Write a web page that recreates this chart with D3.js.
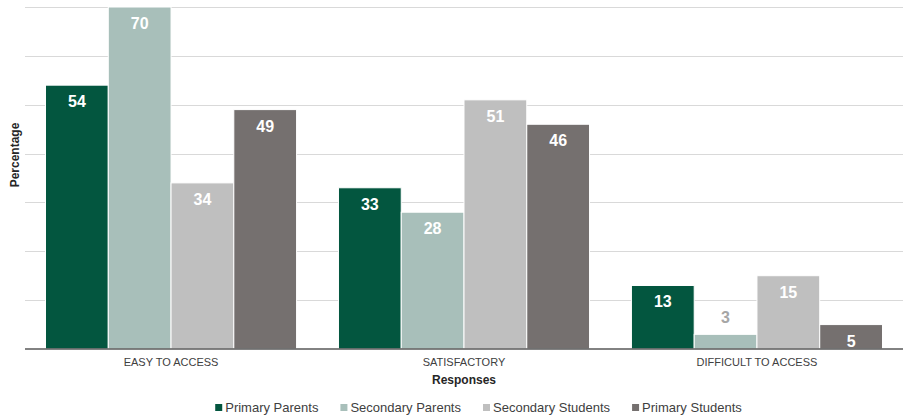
<!DOCTYPE html>
<html>
<head>
<meta charset="utf-8">
<script src="https://cdn.jsdelivr.net/npm/d3@7"></script>
<style>
  body { margin: 0; background: #fff; }
  svg { font-family: "Liberation Sans", Arial, sans-serif; }
</style>
</head>
<body>
<div id="chart"></div>
<script>
const categories = ["EASY TO ACCESS", "SATISFACTORY", "DIFFICULT TO ACCESS"];
const seriesNames = ["Primary Parents", "Secondary Parents", "Secondary Students", "Primary Students"];
const primaryParents = [54, 33, 13];
const secondaryParents = [70, 28, 3];
const secondaryStudents = [34, 51, 15];
const primaryStudents = [49, 46, 5];
const yTicks = [0, 10, 20, 30, 40, 50, 60, 70];

const colors = ["#03563f", "#a8bfba", "#bfbfbf", "#75706f"];
const allSeries = [primaryParents, secondaryParents, secondaryStudents, primaryStudents];

const width = 909, height = 416;
const margin = { top: 7, right: 6, bottom: 67, left: 25 };

const svg = d3.select("#chart")
  .append("svg")
  .attr("width", width)
  .attr("height", height);

const x0 = d3.scaleBand()
  .domain(categories)
  .range([margin.left, width - margin.right])
  .paddingInner(0.143)
  .paddingOuter(0.07);

const x1 = d3.scaleBand()
  .domain(seriesNames)
  .range([0, x0.bandwidth()]);

const y = d3.scaleLinear()
  .domain([0, 70])
  .range([height - margin.bottom, margin.top]);

// gridlines
svg.append("g")
  .selectAll("line")
  .data(yTicks.slice(1))
  .join("line")
  .attr("x1", margin.left)
  .attr("x2", width - margin.right)
  .attr("y1", d => Math.round(y(d)) + 0.5)
  .attr("y2", d => Math.round(y(d)) + 0.5)
  .attr("stroke", "#d9d9d9")
  .attr("stroke-width", 1);

// bars
const groups = svg.append("g")
  .selectAll("g")
  .data(categories)
  .join("g")
  .attr("transform", d => "translate(" + x0(d) + ",0)");

groups.selectAll("rect")
  .data((c, i) => seriesNames.map((s, j) => ({ s, v: allSeries[j][i], j })))
  .join("rect")
  .attr("x", d => x1(d.s))
  .attr("width", x1.bandwidth())
  .attr("y", d => y(d.v))
  .attr("height", d => y(0) - y(d.v))
  .attr("fill", d => colors[d.j])
  .attr("stroke", "#fff")
  .attr("stroke-width", 1);

// value labels
groups.selectAll("text")
  .data((c, i) => seriesNames.map((s, j) => ({ s, v: allSeries[j][i], j })))
  .join("text")
  .attr("x", d => x1(d.s) + x1.bandwidth() / 2)
  .attr("y", d => d.v < 4 ? y(d.v) - 11 : y(d.v) + 22)
  .attr("text-anchor", "middle")
  .attr("font-size", 16)
  .attr("font-weight", "bold")
  .attr("fill", d => (d.v < 4 ? "#a6a6a6" : "#fff"))
  .text(d => d.v);

// baseline
svg.append("line")
  .attr("x1", margin.left)
  .attr("x2", width - margin.right)
  .attr("y1", y(0))
  .attr("y2", y(0))
  .attr("stroke", "#595959")
  .attr("stroke-width", 1.5);

// category labels
svg.append("g")
  .selectAll("text")
  .data(categories)
  .join("text")
  .attr("x", d => x0(d) + x0.bandwidth() / 2)
  .attr("y", y(0) + 17)
  .attr("text-anchor", "middle")
  .attr("font-size", 11)
  .attr("fill", "#404040")
  .text(d => d);

// axis titles
svg.append("text")
  .attr("x", (margin.left + width - margin.right) / 2)
  .attr("y", y(0) + 35)
  .attr("text-anchor", "middle")
  .attr("font-size", 12)
  .attr("font-weight", "bold")
  .attr("fill", "#262626")
  .text("Responses");

svg.append("text")
  .attr("transform", "translate(19,155) rotate(-90)")
  .attr("text-anchor", "middle")
  .attr("font-size", 12)
  .attr("font-weight", "bold")
  .attr("fill", "#262626")
  .text("Percentage");

// legend
const legend = svg.append("g");
let lx = 0;
seriesNames.forEach((name, i) => {
  const item = legend.append("g").attr("transform", "translate(" + lx + ",0)");
  item.append("rect")
    .attr("x", 0).attr("y", -8)
    .attr("width", 7).attr("height", 7)
    .attr("fill", colors[i]);
  const t = item.append("text")
    .attr("x", 10).attr("y", 0)
    .attr("font-size", 13)
    .attr("fill", "#404040")
    .text(name);
  lx += 10 + t.node().getComputedTextLength() + 22;
});
const legendW = lx - 22;
legend.attr("transform", "translate(" + (478.5 - legendW / 2) + ",412)");
</script>
</body>
</html>
